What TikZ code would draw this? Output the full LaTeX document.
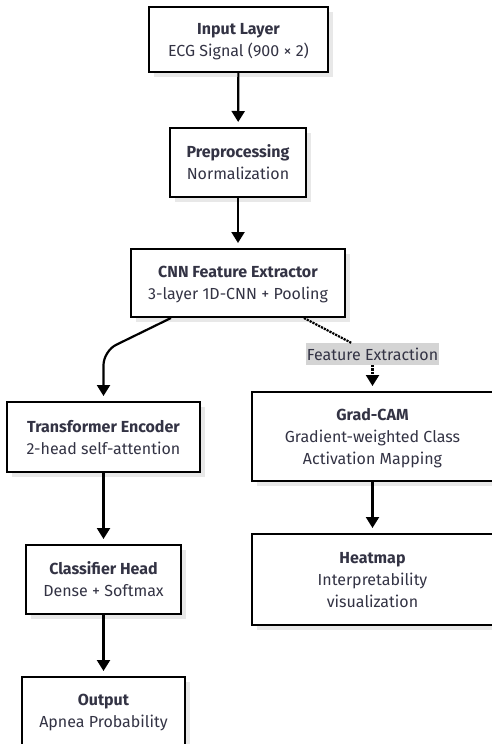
\documentclass[tikz,border=0pt]{standalone}
\usepackage{fontspec}
\setmainfont{Fira Sans}
\usetikzlibrary{arrows.meta,shadows}
\definecolor{ink}{HTML}{333344}
\definecolor{tagfill}{HTML}{D4D4D4}
\begin{document}
\begin{tikzpicture}[x=1pt,y=-1pt,
  box/.style={draw,line width=2pt,fill=white,align=center,text=ink,
    font=\fontsize{16}{22}\selectfont,inner sep=0pt,text depth=0pt,
    drop shadow={shadow xshift=5pt,shadow yshift=-5pt,fill=black!9,opacity=1}},
  link/.style={line width=2.2pt,-{Triangle[width=13pt,length=11pt]},shorten >=5pt},
  hint/.style={link,densely dotted},
  tag/.style={fill=tagfill,text=ink,font=\fontsize{16}{18}\selectfont,inner xsep=1pt,
    inner ysep=0pt,minimum height=22pt}]
\useasboundingbox (0,0) rectangle (492,744);
\node[box,minimum width=179pt,minimum height=65pt] (input) at (238.5,39.5) {\textbf{Input Layer}\\ECG Signal (900 × 2)};
\node[box,minimum width=136pt,minimum height=69pt] (prep) at (238,162.5) {\textbf{Preprocessing}\\Normalization};
\node[box,minimum width=214pt,minimum height=68pt] (cnn) at (238,283) {\textbf{CNN Feature Extractor}\\3-layer 1D-CNN + Pooling};
\node[box,minimum width=193pt,minimum height=70pt] (trans) at (103.5,437) {\textbf{Transformer Encoder}\\2-head self-attention};
\node[box,minimum width=155pt,minimum height=69pt] (clf) at (103.5,579.5) {\textbf{Classifier Head}\\Dense + Softmax};
\node[box,minimum width=163pt,minimum height=68pt] (out) at (103.5,711) {\textbf{Output}\\Apnea Probability};
\node[box,minimum width=241pt,minimum height=89pt] (gcam) at (372.5,436.5) {\textbf{Grad-CAM}\\Gradient-weighted Class\\Activation Mapping};
\node[box,minimum width=242pt,minimum height=91pt] (heat) at (372.5,579.5) {\textbf{Heatmap}\\Interpretability\\visualization};
\node[tag] (fe) at (372.5,354) {Feature Extraction};
\draw[link] (input) -- (prep);
\draw[link] (prep) -- (cnn);
\draw[link,rounded corners=14pt] ([xshift=41pt]cnn.south west) -- (103.5,351) -- (trans.north);
\draw[link] (trans) -- (clf);
\draw[link] (clf) -- (out);
\draw[line width=2.2pt,densely dotted] ([xshift=-42pt]cnn.south east) -- (fe);
\draw[hint] (fe) -- (gcam);
\draw[link] (gcam) -- (heat);
\end{tikzpicture}
\end{document}
